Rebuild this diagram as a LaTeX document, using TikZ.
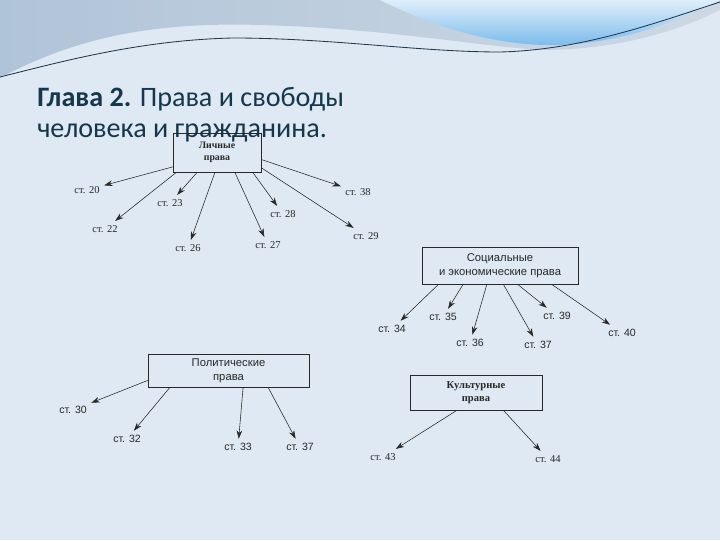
\documentclass[tikz,border=0pt]{standalone}
\usepackage{fontspec}
\setmainfont{Liberation Serif}
\setsansfont{Liberation Sans}
\newfontfamily\titlefont{Carlito}
\usepackage{tikz}
\usetikzlibrary{arrows,arrows.meta,shapes,positioning}
\definecolor{slidebg}{RGB}{222,233,243}
\definecolor{slidetop}{RGB}{176,196,216}
\definecolor{slidetopr}{RGB}{205,216,228}
\definecolor{slideblue}{RGB}{125,188,236}
\definecolor{slideline}{RGB}{35,55,75}
\definecolor{titleteal}{RGB}{22,55,75}
\definecolor{inkgray}{RGB}{40,40,40}
\tikzstyle{arrow} = [thin,-{Stealth[length=6pt,width=4pt]},color=inkgray]
\tikzstyle{rightsbox} = [rectangle, draw=inkgray, thin, align=center, inner sep=1pt, text=inkgray]
\tikzstyle{serifref} = [font=\rmfamily\fontsize{7.5}{9}\selectfont, text=inkgray, inner sep=3pt]
\tikzstyle{sansref} = [font=\sffamily\fontsize{7.5}{9}\selectfont, text=inkgray, inner sep=3pt]

\begin{document}
\begin{tikzpicture}[x=0.025cm,y=-0.025cm]
\useasboundingbox (0,0) rectangle (720,540);
% Slide background
\fill[slidebg] (0,0) rectangle (720,540);
\shade[left color=slidetop, right color=slidetopr] (0,0) -- (720,0) -- (720,10)
  .. controls (680,30) and (620,50) .. (540,50)
  .. controls (470,45) and (380,28) .. (260,25)
  .. controls (160,22) and (80,35) .. (0,78) -- cycle;
\shade[top color=white!75!slideblue, bottom color=slideblue] (380,0)
  .. controls (430,25) and (490,45) .. (550,45)
  .. controls (620,45) and (680,20) .. (720,0) -- cycle;
\draw[slideline, line width=0.6pt] (0,77) .. controls (60,62) and (140,40) .. (233,38)
  .. controls (330,38) and (420,52) .. (500,52)
  .. controls (580,50) and (650,25) .. (720,2);

% Title
\node[anchor=base west, inner sep=0, font=\titlefont\fontsize{20}{24}\selectfont, text=titleteal] (title1) at (37,106) {\textbf{Глава 2.} Права и свободы};
\node[anchor=base west, inner sep=0, font=\titlefont\fontsize{20}{24}\selectfont, text=titleteal] (title2) at (37,137) {человека и гражданина.};

% Personal rights
\node[rightsbox, font=\rmfamily\bfseries\fontsize{7}{8.5}\selectfont, minimum width=2.2cm, minimum height=0.975cm] (personal) at (217,152.5) {Личные\\права};
\node[serifref] (s20) at (87,190) {ст. 20};
\node[serifref] (s22) at (105,229) {ст. 22};
\node[serifref] (s23) at (170,203) {ст. 23};
\node[serifref] (s26) at (188,248) {ст. 26};
\node[serifref] (s27) at (268,245) {ст. 27};
\node[serifref] (s28) at (283,214) {ст. 28};
\node[serifref] (s38) at (358,192) {ст. 38};
\node[serifref] (s29) at (366,236) {ст. 29};
\draw[arrow] (personal.198) -- (s20);
\draw[arrow] (personal.206) -- (s22);
\draw[arrow] (personal.225) -- (s23);
\draw[arrow] (personal.264) -- (s26);
\draw[arrow] (personal.-48) -- (s27);
\draw[arrow] (personal.-29) -- (s28);
\draw[arrow] (personal.-9) -- (s38);
\draw[arrow] (personal.-19) -- (s29);

% Social and economic rights
\node[rightsbox, font=\sffamily\fontsize{8}{10}\selectfont, minimum width=3.9cm, minimum height=0.925cm] (social) at (500,265.5) {Социальные\\и экономические права};
\node[sansref] (s34) at (392,329) {ст. 34};
\node[sansref] (s35) at (443,317) {ст. 35};
\node[sansref] (s36) at (470,343) {ст. 36};
\node[sansref] (s37) at (538,345) {ст. 37};
\node[sansref] (s39) at (557,316) {ст. 39};
\node[sansref] (s40) at (622,333) {ст. 40};
\draw[arrow] (social.197) -- (s34);
\draw[arrow] (social.207) -- (s35);
\draw[arrow] (social.235) -- (s36);
\draw[arrow] (social.-80) -- (s37);
\draw[arrow] (social.-47) -- (s39);
\draw[arrow] (social.-20) -- (s40);

% Political rights
\node[rightsbox, font=\sffamily\fontsize{8}{10}\selectfont, minimum width=4.025cm, minimum height=0.825cm] (political) at (228.5,370.5) {Политические\\права};
\node[sansref] (p30) at (73,410) {ст. 30};
\node[sansref] (p32) at (127,439) {ст. 32};
\node[sansref] (p33) at (238,447) {ст. 33};
\node[sansref] (p37) at (300,447) {ст. 37};
\draw[arrow] (political.187) -- (p30);
\draw[arrow] (political.196) -- (p32);
\draw[arrow] (political.-49) -- (p33);
\draw[arrow] (political.-23) -- (p37);

% Cultural rights
\node[rightsbox, font=\rmfamily\bfseries\fontsize{7.5}{9.5}\selectfont, minimum width=3.3cm, minimum height=0.875cm] (cultural) at (476,392.5) {Культурные\\права};
\node[serifref] (c43) at (383,457) {ст. 43};
\node[serifref] (c44) at (548,459) {ст. 44};
\draw[arrow] (cultural.223) -- (c43);
\draw[arrow] (cultural.-33) -- (c44);
\end{tikzpicture}
\end{document}
